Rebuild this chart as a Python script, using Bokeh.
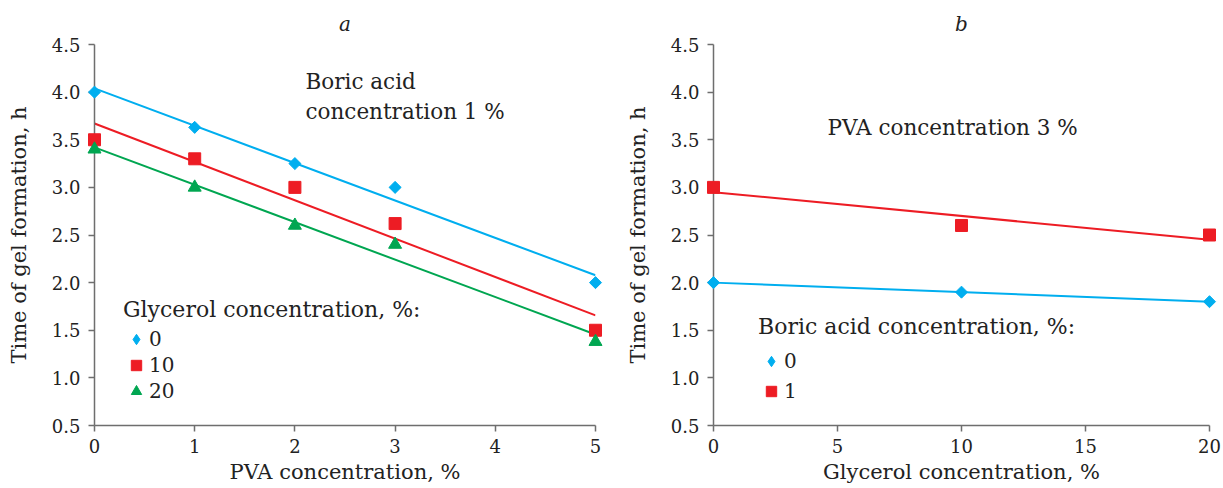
import numpy as np
from bokeh.plotting import figure
from bokeh.models import Range1d, Legend, LegendItem, Label, Title, FixedTicker
from bokeh.layouts import row
from bokeh.embed import file_html
from bokeh.resources import INLINE

FONT = "DejaVu Serif"
TXT = "#222222"
AX = "#6e6e6e"
BLUE = "#00AEEF"
RED = "#ED1C24"
GREEN = "#00A651"

# ---- panel a: gel time vs PVA concentration (boric acid 1 %)
pva_conc = [0, 1, 2, 3, 5]
glycerol_labels = ["0", "10", "20"]
time_glycerol_0 = [4.0, 3.63, 3.25, 3.0, 2.0]
time_glycerol_10 = [3.5, 3.3, 3.0, 2.62, 1.5]
time_glycerol_20 = [3.4, 3.0, 2.6, 2.4, 1.38]
pva_ticks = [0, 1, 2, 3, 4, 5]

# ---- panel b: gel time vs glycerol concentration (PVA 3 %)
glycerol_conc = [0, 10, 20]
boric_labels = ["0", "1"]
time_boric_0 = [2.0, 1.9, 1.8]
time_boric_1 = [3.0, 2.6, 2.5]
glycerol_ticks = [0, 5, 10, 15, 20]

y_ticks = [0.5, 1.0, 1.5, 2.0, 2.5, 3.0, 3.5, 4.0, 4.5]
y_tick_labels = ["0.5", "1.0", "1.5", "2.0", "2.5", "3.0", "3.5", "4.0", "4.5"]


def make_fig(width, xr, bl, br, title, xlabel, xticks):
    p = figure(width=width, height=488, output_backend="svg", toolbar_location=None,
               x_range=Range1d(*xr), y_range=Range1d(0.5, 4.5),
               min_border_left=bl, min_border_right=br,
               min_border_top=44, min_border_bottom=63)
    p.title = Title(text=title, align="center", text_font=FONT, text_font_style="italic",
                    text_font_size="20px", text_color=TXT, standoff=17)
    p.outline_line_color = None
    p.grid.visible = False
    p.background_fill_color = "white"
    p.border_fill_color = "white"
    for ax in (p.xaxis[0], p.yaxis[0]):
        ax.axis_line_color = AX
        ax.axis_line_width = 1.5
        ax.major_tick_line_color = AX
        ax.major_tick_line_width = 1.5
        ax.major_tick_out = 6
        ax.major_tick_in = 0
        ax.minor_tick_out = 0
        ax.minor_tick_in = 0
        ax.major_label_text_font = FONT
        ax.major_label_text_font_size = "18px"
        ax.major_label_text_color = TXT
        ax.axis_label_text_font = FONT
        ax.axis_label_text_font_size = "21px"
        ax.axis_label_text_font_style = "normal"
        ax.axis_label_text_color = TXT
    p.xaxis.ticker = FixedTicker(ticks=xticks)
    p.xaxis.axis_label = xlabel
    p.xaxis.major_label_standoff = 7
    p.xaxis.axis_label_standoff = 4
    p.yaxis.ticker = FixedTicker(ticks=y_ticks)
    p.yaxis.major_label_overrides = {t: l for t, l in zip(y_ticks, y_tick_labels)}
    p.yaxis.axis_label = "Time of gel formation, h"
    p.yaxis.major_label_standoff = 8
    p.yaxis.axis_label_standoff = 18
    return p


def fit_line(p, x, y, color):
    k, b = np.polyfit(np.array(x, float), np.array(y, float), 1)
    xs = np.array([min(x), max(x)], float)
    p.line(xs, k * xs + b, line_color=color, line_width=2)


def style_legend(leg, loc, spacing, title_standoff):
    leg.location = loc
    leg.title_text_font = FONT
    leg.title_text_font_size = "22px"
    leg.title_text_font_style = "normal"
    leg.title_text_color = TXT
    leg.title_standoff = title_standoff
    leg.label_text_font = FONT
    leg.label_text_font_size = "20px"
    leg.label_text_color = TXT
    leg.label_standoff = 0
    leg.glyph_width = 26
    leg.glyph_height = 26
    leg.spacing = spacing
    leg.padding = 0
    leg.margin = 0
    leg.border_line_color = None
    leg.background_fill_alpha = 0


def legend_diamond(p, color):
    # off-screen sample used only for the legend swatch
    return p.scatter(x=[-1000], y=[-1000], marker="diamond", size=12, fill_color=color,
                     line_color=color, level="overlay")


# ---------------- panel a
pa = make_fig(611, (0, 5), 94, 16, "a", "PVA concentration, %", pva_ticks)
fit_line(pa, pva_conc, time_glycerol_0, BLUE)
fit_line(pa, pva_conc, time_glycerol_10, RED)
fit_line(pa, pva_conc, time_glycerol_20, GREEN)
pa.scatter(pva_conc, time_glycerol_0, marker="square", angle=np.pi / 4, size=8.5,
           fill_color=BLUE, line_color=BLUE, level="overlay")
ra1 = pa.scatter(pva_conc, time_glycerol_10, marker="square", size=12,
                 fill_color=RED, line_color=RED, level="overlay")
ra2 = pa.scatter(pva_conc, time_glycerol_20, marker="triangle", size=13,
                 fill_color=GREEN, line_color=GREEN, level="overlay")
pa.add_layout(Label(x=2.106, y=4.24, text="Boric acid\nconcentration 1 %", text_font=FONT,
                    text_font_size="21.5px", text_color=TXT, text_baseline="top",
                    text_line_height=1.2))
la = [legend_diamond(pa, BLUE), ra1, ra2]
leg_a = Legend(title="Glycerol concentration, %:",
               items=[LegendItem(label=l, renderers=[r]) for l, r in zip(glycerol_labels, la)])
style_legend(leg_a, (29, 21), 0, 4)
pa.add_layout(leg_a)

# ---------------- panel b
pb = make_fig(612, (0, 20), 102, 14, "b", "Glycerol concentration, %", glycerol_ticks)
fit_line(pb, glycerol_conc, time_boric_0, BLUE)
fit_line(pb, glycerol_conc, time_boric_1, RED)
pb.scatter(glycerol_conc, time_boric_0, marker="square", angle=np.pi / 4, size=8.5,
           fill_color=BLUE, line_color=BLUE, level="overlay")
rb1 = pb.scatter(glycerol_conc, time_boric_1, marker="square", size=12,
                 fill_color=RED, line_color=RED, level="overlay")
pb.add_layout(Label(x=4.6, y=3.758, text="PVA concentration 3 %", text_font=FONT,
                    text_font_size="21.5px", text_color=TXT, text_baseline="top"))
lb = [legend_diamond(pb, BLUE), rb1]
leg_b = Legend(title="Boric acid concentration, %:",
               items=[LegendItem(label=l, renderers=[r]) for l, r in zip(boric_labels, lb)])
style_legend(leg_b, (45, 21), 4, 9)
pb.add_layout(leg_b)

layout = row(pa, pb)
open("out.html", "w").write(file_html(layout, INLINE))
